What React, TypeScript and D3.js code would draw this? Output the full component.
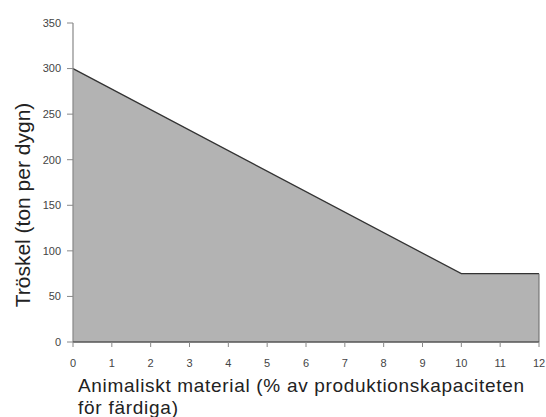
import React from "react";
import * as d3 from "d3";

const xValues = [0, 10, 12];
const yValues = [300, 75, 75];
const xTicks = [0, 1, 2, 3, 4, 5, 6, 7, 8, 9, 10, 11, 12];
const yTicks = [0, 50, 100, 150, 200, 250, 300, 350];
const xTitleLines = ["Animaliskt material (% av produktionskapaciteten", "för färdiga)"];
const yTitle = "Tröskel (ton per dygn)";

export default function App() {
  const W = 546, H = 417;
  const x = d3.scaleLinear().domain([0, 12]).range([73, 539]);
  const y = d3.scaleLinear().domain([0, 350]).range([342, 23]);
  const pts = xValues.map((v, i) => [v, yValues[i]] as [number, number]);
  const area = d3.area<[number, number]>().x(d => x(d[0])).y0(y(0)).y1(d => y(d[1]));
  const outline = d3.line<[number, number]>().x(d => x(d[0])).y(d => y(d[1]));
  const last = pts[pts.length - 1];
  const tickFont = "'Liberation Sans Narrow', 'Arial Narrow', 'Liberation Sans', Arial, sans-serif";
  const titleFont = "'Liberation Sans', Arial, sans-serif";
  const titleWidths = [446, 100];
  return (
    <svg width={W} height={H} style={{ position: "absolute", left: 0, top: 0, background: "#fff" }}>
      <path d={area(pts) ?? ""} fill="#b3b3b3" stroke="none" />
      <path d={outline(pts) ?? ""} fill="none" stroke="#333" strokeWidth={1.3} />
      <line x1={x(last[0])} x2={x(last[0])} y1={y(last[1])} y2={y(0)} stroke="#666" strokeWidth={1} />
      {/* y axis */}
      <line x1={x(0)} x2={x(0)} y1={y(350)} y2={y(0)} stroke="#888" strokeWidth={1.2} />
      {yTicks.map(t => (
        <g key={t}>
          <line x1={x(0) - 6} x2={x(0)} y1={y(t)} y2={y(t)} stroke="#888" strokeWidth={1} />
          <text x={x(0) - 12} y={y(t)} dy="0.35em" textAnchor="end" fontSize={11} fill="#444" fontFamily={tickFont}>{t}</text>
        </g>
      ))}
      {/* x axis */}
      <line x1={x(0)} x2={x(12)} y1={y(0)} y2={y(0)} stroke="#555" strokeWidth={1.3} />
      {xTicks.map(t => (
        <g key={t}>
          <line x1={x(t)} x2={x(t)} y1={y(0)} y2={y(0) + 5} stroke="#888" strokeWidth={1} />
          <text x={x(t)} y={363} dy="0.35em" textAnchor="middle" fontSize={11} fill="#444" fontFamily={tickFont}>{t}</text>
        </g>
      ))}
      {xTitleLines.map((l, i) => (
        <text key={i} x={78} y={392 + i * 22} fontSize={19} fill="#222" fontFamily={titleFont}
          textLength={titleWidths[i]} lengthAdjust="spacing">{l}</text>
      ))}
      <text transform={`translate(23,205) rotate(-90)`} dy="0.35em" textAnchor="middle" fontSize={21} fill="#222" fontFamily={titleFont}>{yTitle}</text>
    </svg>
  );
}
